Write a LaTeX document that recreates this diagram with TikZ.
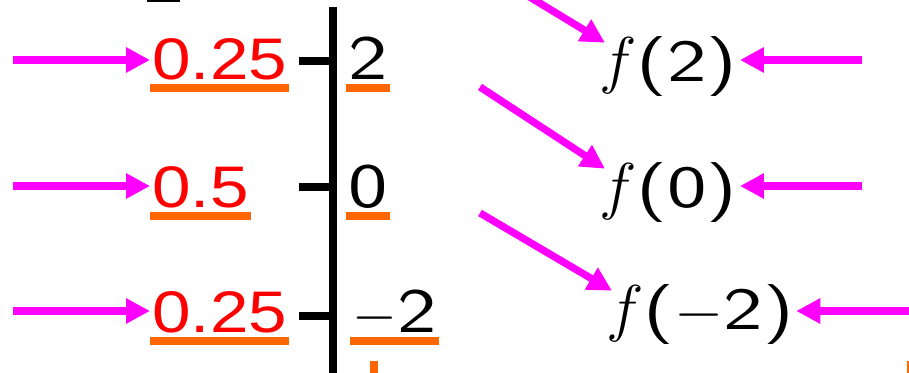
\documentclass[tikz,border=0pt]{standalone}
\usepackage{fontspec}
\usepackage{tikz}
\usetikzlibrary{arrows.meta,calc}
\newfontfamily\probfont{Liberation Sans}
\newcommand{\wide}[2][1.3]{\scalebox{#1}[1]{#2}}
\definecolor{pointmagenta}{RGB}{255,0,255}
\definecolor{probred}{RGB}{255,0,0}
\definecolor{lineorange}{RGB}{255,102,0}

\begin{document}
\begin{tikzpicture}[x=0.3pt,y=-0.3pt,>={Triangle[length=7.2pt,width=7.2pt]},
 prob/.style={anchor=base west,inner sep=0.5pt,text=probred,font=\fontsize{17.6}{20}\probfont},
 val/.style={anchor=base west,inner sep=0.5pt,font=\fontsize{19}{22}\sffamily},
 fval/.style={anchor=base west,inner sep=0.5pt,font=\fontsize{18}{22}\sffamily},
 pointer/.style={->,pointmagenta,line width=2.2pt},
 uline/.style={lineorange,line width=2.3pt},
 tick/.style={line width=2.4pt}]
\useasboundingbox (0,0) rectangle (909,373);
% axis and ticks
\draw[tick] (333,7)--(333,380);
\foreach \yy in {61,187,316}
 \draw[tick] (299,\yy)--(333,\yy);
% probabilities and values
\node[prob] (pA) at (150,80) {\wide[1.18]{0.25}};
\node[prob] (pB) at (150,208) {\wide[1.18]{0.5}};
\node[prob] (pC) at (150,333) {\wide[1.18]{0.25}};
\node[val] (vA) at (346,80) {\wide[1.32]{2}};
\node[val] (vB) at (346,208) {\wide[1.32]{0}};
\node[val] (vC) at (350,333) {$-$\wide[1.32]{2}};
\foreach \n in {pA,pB,pC,vA,vB,vC}
 \draw[uline] ($(\n.base west)+(0,8)$)--($(\n.base east)+(0,8)$);
% function values
\node[fval] (fA) at (597,82) {\scalebox{1.1}{$f$}\wide[1.4]{(2)}};
\node[fval] (fB) at (597,208) {\scalebox{1.1}{$f$}\wide[1.4]{(0)}};
\node[fval] (fC) at (604,330) {\scalebox{1.1}{$f$}\wide[1.4]{(}\wide[1.1]{$-$}\wide[1.4]{2)}};
% pointers
\coordinate (sA) at (13,60);
\coordinate (sB) at (13,186);
\coordinate (sC) at (13,311);
\coordinate (eA) at (862,60);
\coordinate (eB) at (862,186);
\coordinate (eC) at (912,311);
\coordinate (dA) at (528,-4);
\coordinate (dB) at (480,87);
\coordinate (dC) at (480,213);
\foreach \s/\n in {sA/pA,sB/pB,sC/pC}
 \draw[pointer] (\s)--(\s-|\n.west);
\foreach \e/\n in {eA/fA,eB/fB,eC/fC}
 \draw[pointer] (\e)--(\e-|\n.east);
\foreach \d/\n in {dA/fA,dB/fB,dC/fC}
 \draw[pointer] (\d)--($(\n.north west)+(8,8)$);
% cut-off marks at the edges
\fill (147,0) rectangle (180,2.5);
\fill[lineorange] (370,361) rectangle (378,373);
\fill[lineorange] (907,361) rectangle (909,373);
\end{tikzpicture}
\end{document}
